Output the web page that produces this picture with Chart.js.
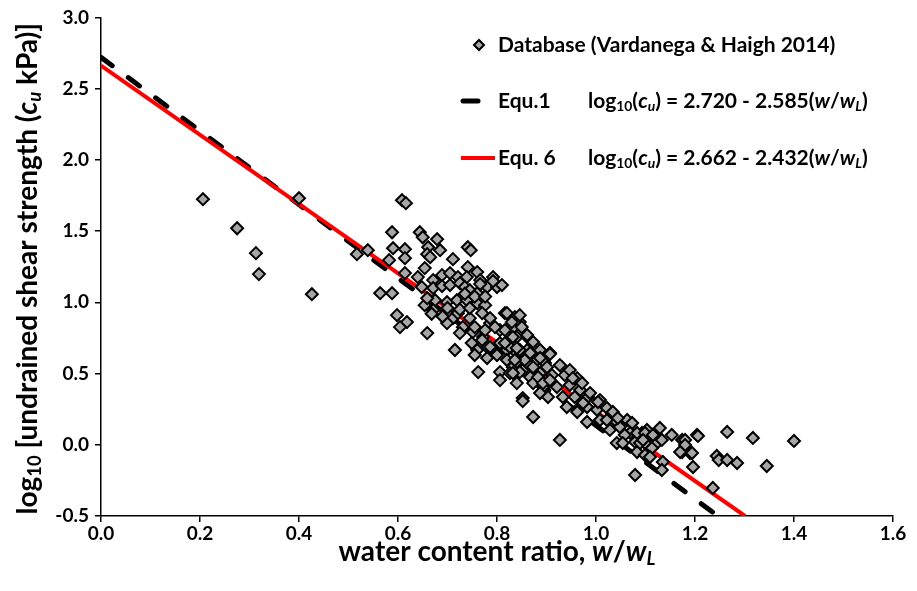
<!DOCTYPE html>
<html>
<head>
<meta charset="utf-8">
<script src="https://cdn.jsdelivr.net/npm/chart.js@4.4.0/dist/chart.umd.min.js"></script>
<style>
  html, body { margin: 0; padding: 0; background: #fff; }
  #wrap { width: 917px; height: 591px; }
</style>
</head>
<body>
<div id="wrap"><canvas id="grafico"></canvas></div>
<script>
// w/wL e log10(cu)
var waterRatio = [
  0.206, 0.275, 0.313, 0.319, 0.400, 0.426, 0.517, 0.539, 0.564, 0.588,
  0.608, 0.616, 0.588, 0.644, 0.650, 0.679, 0.590, 0.614, 0.661, 0.685,
  0.741, 0.747, 0.614, 0.582, 0.659, 0.665, 0.711, 0.654, 0.741, 0.760,
  0.614, 0.640, 0.689, 0.705, 0.721, 0.739, 0.671, 0.792, 0.766, 0.648,
  0.671, 0.689, 0.705, 0.725, 0.735, 0.745, 0.760, 0.780, 0.654, 0.675,
  0.699, 0.719, 0.739, 0.760, 0.776, 0.800, 0.810, 0.598, 0.618, 0.604,
  0.659, 0.711, 0.699, 0.731, 0.725, 0.751, 0.772, 0.786, 0.806, 0.826,
  0.840, 0.861, 0.715, 0.760, 0.780, 0.800, 0.820, 0.840, 0.861, 0.877,
  0.762, 0.806, 0.832, 0.852, 0.871, 0.766, 0.792, 0.659, 0.671, 0.699,
  0.721, 0.745, 0.770, 0.786, 0.816, 0.836, 0.846, 0.755, 0.776, 0.796,
  0.832, 0.861, 0.873, 0.749, 0.770, 0.786, 0.806, 0.826, 0.846, 0.867,
  0.887, 0.755, 0.780, 0.800, 0.820, 0.840, 0.861, 0.881, 0.897, 0.826,
  0.846, 0.867, 0.887, 0.806, 0.840, 0.873, 0.893, 0.887, 0.903, 0.852,
  0.820, 0.846, 0.830, 0.850, 0.816, 0.832, 0.816, 0.840, 0.887, 0.907,
  0.856, 0.873, 0.901, 0.931, 0.836, 0.832, 0.883, 0.911, 0.937, 0.962,
  0.893, 0.921, 0.947, 0.968, 0.984, 0.933, 0.957, 1.008, 0.852, 0.873,
  0.941, 0.962, 0.982, 1.002, 1.022, 1.034, 0.982, 1.008, 1.022, 1.042,
  1.063, 1.073, 1.048, 1.028, 1.069, 1.093, 1.109, 1.129, 1.153, 1.174,
  1.204, 0.927, 1.079, 1.103, 1.123, 1.042, 1.083, 1.099, 1.174, 1.190,
  0.907, 0.927, 0.947, 0.953, 0.972, 0.907, 0.988, 1.004, 0.974, 1.034,
  0.962, 1.044, 1.083, 1.103, 1.058, 1.054, 1.089, 1.113, 1.180, 1.206,
  1.265, 1.317, 1.400, 1.099, 1.115, 1.133, 1.095, 1.180, 1.170, 1.194,
  1.244, 1.248, 1.265, 1.285, 1.345, 1.196, 1.135, 1.133, 1.109, 1.236,
  1.079, 0.735, 0.755, 0.725, 0.700, 0.690, 0.668, 0.776, 0.745
];
var logCu = [
  1.724, 1.520, 1.345, 1.198, 1.731, 1.057, 1.338, 1.366, 1.064, 1.064,
  1.717, 1.696, 1.492, 1.492, 1.457, 1.443, 1.380, 1.373, 1.387, 1.366,
  1.387, 1.366, 1.310, 1.296, 1.338, 1.317, 1.303, 1.240, 1.247, 1.212,
  1.205, 1.177, 1.191, 1.205, 1.177, 1.177, 1.156, 1.177, 1.156, 1.107,
  1.100, 1.114, 1.121, 1.135, 1.107, 1.085, 1.064, 1.107, 0.980, 1.015,
  1.001, 1.015, 1.015, 0.994, 0.980, 1.107, 1.121, 0.910, 0.861, 0.826,
  0.784, 0.889, 0.854, 0.826, 0.784, 0.791, 0.756, 0.854, 0.805, 0.826,
  0.756, 0.756, 0.665, 0.665, 0.686, 0.644, 0.665, 0.644, 0.665, 0.616,
  0.510, 0.510, 0.545, 0.524, 0.545, 1.128, 1.149, 1.029, 0.945, 0.931,
  0.924, 0.889, 0.924, 0.889, 0.924, 0.896, 0.861, 0.826, 0.805, 0.826,
  0.819, 0.770, 0.721, 0.714, 0.735, 0.686, 0.714, 0.686, 0.665, 0.644,
  0.665, 0.630, 0.609, 0.630, 0.595, 0.581, 0.574, 0.595, 0.574, 0.503,
  0.510, 0.475, 0.503, 0.454, 0.433, 0.433, 0.405, 0.363, 0.335, 0.328,
  0.924, 0.910, 0.861, 0.826, 0.805, 0.756, 0.714, 0.679, 0.609, 0.644,
  0.595, 0.545, 0.545, 0.545, 0.595, 0.503, 0.475, 0.489, 0.489, 0.468,
  0.433, 0.405, 0.419, 0.384, 0.335, 0.335, 0.335, 0.314, 0.307, 0.195,
  0.265, 0.246, 0.265, 0.246, 0.258, 0.223, 0.160, 0.174, 0.174, 0.160,
  0.174, 0.153, 0.125, 0.104, 0.083, 0.083, 0.069, 0.118, 0.069, 0.034,
  0.069, 0.034, 0.020, -0.002, 0.012, 0.012, -0.051, -0.072, -0.051, -0.058,
  0.637, 0.559, 0.524, 0.468, 0.433, 0.454, 0.363, 0.300, 0.293, 0.230,
  0.230, 0.188, 0.083, 0.104, 0.069, 0.012, 0.012, -0.023, 0.034, 0.062,
  0.090, 0.048, 0.027, 0.083, 0.069, 0.034, 0.034, -0.002, -0.051, -0.058,
  -0.079, -0.107, -0.107, -0.128, -0.149, -0.156, -0.121, -0.177, -0.086, -0.303,
  -0.212, 1.060, 1.040, 0.950, 0.960, 0.900, 0.920, 1.040, 0.960
];

// retas das equacoes (pontos extremos no grafico)
var equ1X = [0, 1.246];
var equ1Y = [2.720, -0.5];
var equ6X = [0, 1.301];
var equ6Y = [2.662, -0.5];

var eixoX = [0, 1.6, 0.2];
var eixoY = [-0.5, 3.0, 0.5];

var FONTE = 'Lato, "Open Sans", sans-serif';

function juntarPontos(xs, ys) {
    var lista = [];
    for (var i = 0; i < xs.length; i++) {
        lista.push({ x: xs[i], y: ys[i] });
    }
    return lista;
}

// texto com italico e subscrito: [texto, 'i' | 's' | 'is']
function desenharTexto(ctx, partes, x, y, tam, alinhar) {
    var total = 0;
    var itens = partes.map(function (p) {
        var f = p[1] || '';
        var sub = f.indexOf('s') >= 0;
        var fs = sub ? tam * 0.66 : tam;
        var fonte = (f.indexOf('i') >= 0 ? 'italic ' : '') + 'bold ' + fs + 'px ' + FONTE;
        ctx.font = fonte;
        var w = ctx.measureText(p[0]).width;
        total += w;
        return { t: p[0], fonte: fonte, w: w, dy: sub ? tam * 0.24 : 0 };
    });
    var cx = alinhar == 'center' ? x - total / 2 : x;
    ctx.textAlign = 'left';
    ctx.textBaseline = 'middle';
    ctx.fillStyle = '#000';
    itens.forEach(function (it) {
        ctx.font = it.fonte;
        ctx.fillText(it.t, cx, y + it.dy);
        cx += it.w;
    });
}

var textosPlugin = {
    id: 'textos',
    afterDraw: function (chart) {
        var ctx = chart.ctx;
        var area = chart.chartArea;
        ctx.save();

        // titulo eixo x
        desenharTexto(ctx, [['water content ratio, '], ['w', 'i'], ['/'], ['w', 'i'], ['L', 'is']],
            (area.left + area.right) / 2, 552, 28, 'center');

        // titulo eixo y
        ctx.save();
        ctx.translate(28, (area.top + area.bottom) / 2 + 2);
        ctx.rotate(-Math.PI / 2);
        desenharTexto(ctx, [['log'], ['10', 's'], [' [undrained shear strength ('], ['c', 'i'], ['u', 'is'], [' kPa)]']],
            0, 0, 28, 'center');
        ctx.restore();

        // legenda
        var lx = 498;
        ctx.beginPath();
        ctx.moveTo(479 - 5, 45);
        ctx.lineTo(479, 40);
        ctx.lineTo(479 + 5, 45);
        ctx.lineTo(479, 50);
        ctx.closePath();
        ctx.fillStyle = '#a6a6a6';
        ctx.fill();
        ctx.lineWidth = 2;
        ctx.strokeStyle = '#000';
        ctx.stroke();
        desenharTexto(ctx, [['Database (Vardanega & Haigh 2014)']], lx, 45, 21, 'left');

        ctx.beginPath();
        ctx.lineCap = 'round';
        ctx.lineWidth = 5;
        ctx.strokeStyle = '#000';
        ctx.moveTo(463, 101);
        ctx.lineTo(478, 101);
        ctx.stroke();
        desenharTexto(ctx, [['Equ.1']], lx, 101, 21, 'left');
        desenharTexto(ctx, [['log'], ['10', 's'], ['('], ['c', 'i'], ['u', 'is'], [') = 2.720 - 2.585('], ['w', 'i'], ['/'], ['w', 'i'], ['L', 'is'], [')']],
            588, 101, 21, 'left');

        ctx.beginPath();
        ctx.lineCap = 'butt';
        ctx.lineWidth = 4;
        ctx.strokeStyle = '#ff0000';
        ctx.moveTo(461, 158);
        ctx.lineTo(495, 158);
        ctx.stroke();
        desenharTexto(ctx, [['Equ. 6']], lx, 158, 21, 'left');
        desenharTexto(ctx, [['log'], ['10', 's'], ['('], ['c', 'i'], ['u', 'is'], [') = 2.662 - 2.432('], ['w', 'i'], ['/'], ['w', 'i'], ['L', 'is'], [')']],
            588, 158, 21, 'left');

        ctx.restore();
    }
};

var config = {
    type: 'scatter',
    data: {
        datasets: [{
            label: 'Database (Vardanega & Haigh 2014)',
            data: juntarPontos(waterRatio, logCu),
            pointStyle: 'rectRot',
            pointRadius: 6,
            backgroundColor: '#a6a6a6',
            borderColor: '#000',
            borderWidth: 2,
            order: 0
        }, {
            type: 'line',
            label: 'Equ. 6',
            data: juntarPontos(equ6X, equ6Y),
            borderColor: '#ff0000',
            borderWidth: 4,
            pointRadius: 0,
            fill: false,
            order: 1
        }, {
            type: 'line',
            label: 'Equ.1',
            data: juntarPontos(equ1X, equ1Y),
            borderColor: '#000',
            borderWidth: 5,
            borderDash: [14, 20],
            borderCapStyle: 'round',
            pointRadius: 0,
            fill: false,
            order: 2
        }]
    },
    options: {
        responsive: true,
        maintainAspectRatio: false,
        animation: false,
        layout: { padding: { left: 0, top: 17, right: 24, bottom: 0 } },
        plugins: {
            legend: { display: false },
            tooltip: { enabled: false }
        },
        scales: {
            x: {
                type: 'linear',
                min: eixoX[0],
                max: eixoX[1],
                ticks: {
                    stepSize: eixoX[2],
                    color: '#000',
                    padding: 0,
                    font: { family: FONTE, size: 19, weight: 'bold' },
                    callback: function (v) { return v.toFixed(1); }
                },
                grid: { drawOnChartArea: false, drawTicks: true, tickLength: 6, color: '#000', lineWidth: 1.5 },
                border: { color: '#000', width: 1.5 },
                afterFit: function (scale) { scale.height = 75; }
            },
            y: {
                type: 'linear',
                min: eixoY[0],
                max: eixoY[1],
                ticks: {
                    stepSize: eixoY[2],
                    color: '#000',
                    padding: 6,
                    font: { family: FONTE, size: 19, weight: 'bold' },
                    callback: function (v) { return v.toFixed(1); }
                },
                grid: { drawOnChartArea: false, drawTicks: true, tickLength: 6, color: '#000', lineWidth: 1.5 },
                border: { color: '#000', width: 1.5 },
                afterFit: function (scale) { scale.width = 101; }
            }
        }
    },
    plugins: [textosPlugin]
};

let myChart = new Chart(document.getElementById('grafico'), config);
</script>
</body>
</html>
